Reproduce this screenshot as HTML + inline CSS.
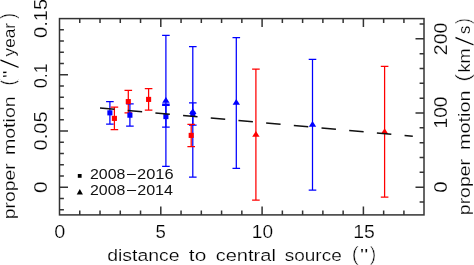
<!DOCTYPE html>
<html><head><meta charset="utf-8"><style>
html,body{margin:0;padding:0;background:#fff;width:474px;height:265px;overflow:hidden}
svg{display:block}
text{font-family:"Liberation Sans", "DejaVu Sans", sans-serif;fill:#000;stroke:#fff;stroke-width:0.2px}
text.lg{stroke:none;fill:#111}
text.sl{stroke-width:0.9px}
text.pn{stroke-width:0.5px}
</style></head><body>
<svg width="474" height="265" viewBox="0 0 474 265">
<rect x="59.5" y="18.6" width="364.50" height="196.30" fill="none" stroke="#333" stroke-width="1.5"/>
<path d="M79.76 214.9v-4.4M79.76 18.6v4.4M100.02 214.9v-4.4M100.02 18.6v4.4M120.28 214.9v-4.4M120.28 18.6v4.4M140.54 214.9v-4.4M140.54 18.6v4.4M160.80 214.9v-8.5M160.80 18.6v8.5M181.06 214.9v-4.4M181.06 18.6v4.4M201.32 214.9v-4.4M201.32 18.6v4.4M221.58 214.9v-4.4M221.58 18.6v4.4M241.84 214.9v-4.4M241.84 18.6v4.4M262.10 214.9v-8.5M262.10 18.6v8.5M282.36 214.9v-4.4M282.36 18.6v4.4M302.62 214.9v-4.4M302.62 18.6v4.4M322.88 214.9v-4.4M322.88 18.6v4.4M343.14 214.9v-4.4M343.14 18.6v4.4M363.40 214.9v-8.5M363.40 18.6v8.5M383.66 214.9v-4.4M383.66 18.6v4.4M403.92 214.9v-4.4M403.92 18.6v4.4M59.5 209.69h4.4M59.5 198.44h4.4M59.5 187.20h8.5M59.5 175.96h4.4M59.5 164.71h4.4M59.5 153.47h4.4M59.5 142.22h4.4M59.5 130.98h8.5M59.5 119.74h4.4M59.5 108.49h4.4M59.5 97.25h4.4M59.5 86.00h4.4M59.5 74.76h8.5M59.5 63.52h4.4M59.5 52.27h4.4M59.5 41.03h4.4M59.5 29.78h4.4M424.0 202.04h-4.4M424.0 187.20h-8.5M424.0 172.36h-4.4M424.0 157.52h-4.4M424.0 142.68h-4.4M424.0 127.84h-4.4M424.0 113.00h-8.5M424.0 98.16h-4.4M424.0 83.32h-4.4M424.0 68.48h-4.4M424.0 53.64h-4.4M424.0 38.80h-8.5M424.0 23.96h-4.4" fill="none" stroke="#333" stroke-width="1.5"/>
<path d="M165.90 35.4V166.3M162.10 35.4h7.60M162.10 166.3h7.60" stroke="#0000ff" stroke-width="1.25" fill="none"/>
<path d="M192.80 46.7V177.2M189.00 46.7h7.60M189.00 177.2h7.60" stroke="#0000ff" stroke-width="1.25" fill="none"/>
<path d="M236.30 37.5V168.3M232.50 37.5h7.60M232.50 168.3h7.60" stroke="#0000ff" stroke-width="1.25" fill="none"/>
<path d="M255.90 69.1V200.0M252.10 69.1h7.60M252.10 200.0h7.60" stroke="#ff0000" stroke-width="1.25" fill="none"/>
<path d="M312.50 59.4V190.2M308.70 59.4h7.60M308.70 190.2h7.60" stroke="#0000ff" stroke-width="1.25" fill="none"/>
<path d="M384.60 66.4V197.1M380.80 66.4h7.60M380.80 197.1h7.60" stroke="#ff0000" stroke-width="1.25" fill="none"/>
<path d="M109.90 101.6V124.1M106.10 101.6h7.60M106.10 124.1h7.60" stroke="#0000ff" stroke-width="1.25" fill="none"/>
<path d="M114.40 107.1V129.5M110.60 107.1h7.60M110.60 129.5h7.60" stroke="#ff0000" stroke-width="1.25" fill="none"/>
<path d="M128.30 90.3V112.9M124.50 90.3h7.60M124.50 112.9h7.60" stroke="#ff0000" stroke-width="1.25" fill="none"/>
<path d="M129.90 103.9V126.0M126.10 103.9h7.60M126.10 126.0h7.60" stroke="#0000ff" stroke-width="1.25" fill="none"/>
<path d="M148.60 88.5V110.2M144.80 88.5h7.60M144.80 110.2h7.60" stroke="#ff0000" stroke-width="1.25" fill="none"/>
<path d="M165.90 105.4V127.1M162.10 105.4h7.60M162.10 127.1h7.60M162.10 104.1h7.60" stroke="#0000ff" stroke-width="1.25" fill="none"/>
<path d="M192.80 102.9V125.2M189.00 102.9h7.60M189.00 125.2h7.60" stroke="#0000ff" stroke-width="1.25" fill="none"/>
<path d="M191.20 124.3V146.6M187.40 124.3h7.60M187.40 146.6h7.60" stroke="#ff0000" stroke-width="1.25" fill="none"/>
<rect x="107.35" y="110.30" width="5.1" height="5.1" fill="#0000ff"/>
<rect x="111.85" y="115.85" width="5.1" height="5.1" fill="#ff0000"/>
<rect x="125.75" y="99.05" width="5.1" height="5.1" fill="#ff0000"/>
<rect x="127.35" y="112.65" width="5.1" height="5.1" fill="#0000ff"/>
<rect x="146.05" y="96.85" width="5.1" height="5.1" fill="#ff0000"/>
<rect x="163.35" y="114.05" width="5.1" height="5.1" fill="#0000ff"/>
<rect x="190.25" y="111.45" width="5.1" height="5.1" fill="#0000ff"/>
<rect x="188.65" y="132.85" width="5.1" height="5.1" fill="#ff0000"/>
<path d="M165.90 97.10L169.60 102.80L162.20 102.80Z" fill="#0000ff"/>
<path d="M192.80 108.20L196.50 113.90L189.10 113.90Z" fill="#0000ff"/>
<path d="M236.30 99.10L240.00 104.80L232.60 104.80Z" fill="#0000ff"/>
<path d="M255.90 131.00L259.60 136.70L252.20 136.70Z" fill="#ff0000"/>
<path d="M312.50 121.00L316.20 126.70L308.80 126.70Z" fill="#0000ff"/>
<path d="M384.60 128.20L388.30 133.90L380.90 133.90Z" fill="#ff0000"/>
<line x1="100.02" y1="107.9" x2="412.8" y2="136.3" stroke="#111" stroke-width="1.5" stroke-dasharray="14.5 13.3"/>
<rect x="77.80" y="174.00" width="3.8" height="3.8" fill="#000"/>
<path d="M79.80 189.00L82.90 194.50L76.70 194.50Z" fill="#000"/>
<text class="lg" x="90.00" y="178.70" font-size="15.2" textLength="35.39" lengthAdjust="spacingAndGlyphs">2008</text>
<text class="lg" x="127.00" y="178.06" font-size="15.2" textLength="8.91" lengthAdjust="spacingAndGlyphs">–</text>
<text class="lg" x="137.07" y="178.70" font-size="15.2" textLength="36.55" lengthAdjust="spacingAndGlyphs">2016</text>
<text class="lg" x="90.00" y="195.00" font-size="15.2" textLength="35.39" lengthAdjust="spacingAndGlyphs">2008</text>
<text class="lg" x="126.90" y="194.26" font-size="15.2" textLength="9.11" lengthAdjust="spacingAndGlyphs">–</text>
<text class="lg" x="137.19" y="195.00" font-size="15.2" textLength="35.88" lengthAdjust="spacingAndGlyphs">2014</text>
<text x="54.22" y="237.60" font-size="18.6" textLength="11.05" lengthAdjust="spacingAndGlyphs">0</text>
<text x="155.46" y="237.60" font-size="18.6" textLength="10.32" lengthAdjust="spacingAndGlyphs">5</text>
<text x="251.85" y="237.60" font-size="18.6" textLength="21.20" lengthAdjust="spacingAndGlyphs">10</text>
<text x="353.22" y="237.60" font-size="18.6" textLength="21.59" lengthAdjust="spacingAndGlyphs">15</text>
<text transform="translate(46.90 192.20) rotate(-90)" x="-0.82" y="0" font-size="18.6" textLength="11.63" lengthAdjust="spacingAndGlyphs">0</text>
<text transform="translate(46.90 149.70) rotate(-90)" x="-0.78" y="0" font-size="18.6" textLength="39.03" lengthAdjust="spacingAndGlyphs">0.05</text>
<text transform="translate(46.90 87.60) rotate(-90)" x="-0.70" y="0" font-size="18.6" textLength="24.87" lengthAdjust="spacingAndGlyphs">0.1</text>
<text transform="translate(46.90 37.20) rotate(-90)" x="-0.79" y="0" font-size="18.6" textLength="39.13" lengthAdjust="spacingAndGlyphs">0.15</text>
<text transform="translate(446.80 191.90) rotate(-90)" x="-0.79" y="0" font-size="18.6" textLength="11.29" lengthAdjust="spacingAndGlyphs">0</text>
<text transform="translate(446.80 127.00) rotate(-90)" x="-1.46" y="0" font-size="18.6" textLength="31.90" lengthAdjust="spacingAndGlyphs">100</text>
<text transform="translate(446.80 54.20) rotate(-90)" x="-0.98" y="0" font-size="18.6" textLength="32.65" lengthAdjust="spacingAndGlyphs">200</text>
<text x="107.18" y="260.60" font-size="17.4" textLength="72.48" lengthAdjust="spacingAndGlyphs">distance</text>
<text x="188.88" y="260.60" font-size="17.4" textLength="17.39" lengthAdjust="spacingAndGlyphs">to</text>
<text x="215.65" y="260.60" font-size="17.4" textLength="60.30" lengthAdjust="spacingAndGlyphs">central</text>
<text x="284.77" y="260.60" font-size="17.4" textLength="56.97" lengthAdjust="spacingAndGlyphs">source</text>
<text class="pn" x="351.79" y="261.00" font-size="20.5" textLength="7.03" lengthAdjust="spacingAndGlyphs">(</text>
<text x="359.91" y="260.80" font-size="17.4" textLength="8.28" lengthAdjust="spacingAndGlyphs">&quot;</text>
<text class="pn" x="369.69" y="261.00" font-size="20.5" textLength="6.41" lengthAdjust="spacingAndGlyphs">)</text>
<text transform="translate(15.30 218.00) rotate(-90)" x="-1.25" y="0" font-size="17.4" textLength="55.87" lengthAdjust="spacingAndGlyphs">proper</text>
<text transform="translate(15.30 153.80) rotate(-90)" x="-1.30" y="0" font-size="17.4" textLength="58.77" lengthAdjust="spacingAndGlyphs">motion</text>
<text class="pn" transform="translate(15.00 84.50) rotate(-90)" x="-1.17" y="0" font-size="20.5" textLength="6.28" lengthAdjust="spacingAndGlyphs">(</text>
<text transform="translate(15.30 77.00) rotate(-90)" x="-0.93" y="0" font-size="17.4" textLength="7.76" lengthAdjust="spacingAndGlyphs">&quot;</text>
<text class="sl" transform="translate(18.67 68.90) rotate(-90)" x="-0.00" y="0" font-size="25.5" textLength="10.60" lengthAdjust="spacingAndGlyphs">/</text>
<text transform="translate(15.30 56.40) rotate(-90)" x="-0.04" y="0" font-size="17.4" textLength="33.53" lengthAdjust="spacingAndGlyphs">year</text>
<text class="pn" transform="translate(15.00 18.70) rotate(-90)" x="-0.10" y="0" font-size="20.5" textLength="5.65" lengthAdjust="spacingAndGlyphs">)</text>
<text transform="translate(470.40 213.90) rotate(-90)" x="-1.25" y="0" font-size="17.4" textLength="56.07" lengthAdjust="spacingAndGlyphs">proper</text>
<text transform="translate(470.40 148.80) rotate(-90)" x="-1.32" y="0" font-size="17.4" textLength="59.71" lengthAdjust="spacingAndGlyphs">motion</text>
<text class="pn" transform="translate(470.10 80.10) rotate(-90)" x="-1.36" y="0" font-size="20.5" textLength="7.28" lengthAdjust="spacingAndGlyphs">(</text>
<text transform="translate(470.40 71.20) rotate(-90)" x="-1.22" y="0" font-size="17.4" textLength="24.11" lengthAdjust="spacingAndGlyphs">km</text>
<text class="sl" transform="translate(473.70 46.50) rotate(-90)" x="-0.00" y="0" font-size="25.5" textLength="10.60" lengthAdjust="spacingAndGlyphs">/</text>
<text transform="translate(470.40 33.60) rotate(-90)" x="-0.46" y="0" font-size="17.4" textLength="8.26" lengthAdjust="spacingAndGlyphs">s</text>
<text class="pn" transform="translate(470.10 23.90) rotate(-90)" x="-0.10" y="0" font-size="20.5" textLength="5.90" lengthAdjust="spacingAndGlyphs">)</text>
</svg>
</body></html>
